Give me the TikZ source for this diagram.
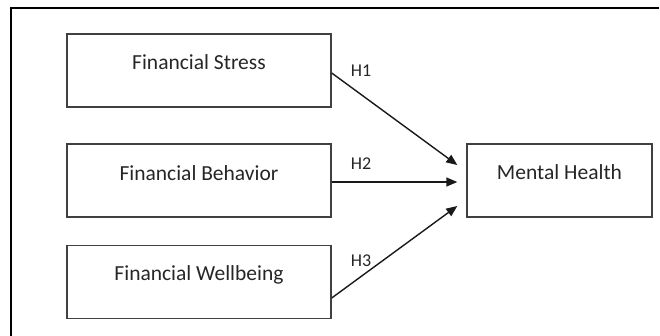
\documentclass[tikz,border=0pt]{standalone}
\usepackage{fontspec}
\setmainfont{Carlito}
\usetikzlibrary{arrows.meta}
\begin{document}
\begin{tikzpicture}[x=1pt,y=-1pt,
  boxnode/.style={draw=black!75,line width=1.4pt,minimum width=264pt,minimum height=73pt,inner sep=0pt},
  mhnode/.style={draw=black!75,line width=1.4pt,minimum width=185pt,minimum height=73pt,inner sep=0pt},
  txt/.style={font=\fontsize{21.5}{24}\selectfont,text=black!85,inner sep=0pt},
  hlab/.style={font=\fontsize{18}{20}\selectfont,text=black!85,inner sep=0pt},
  arr/.style={line width=1.4pt,black!90,-{Triangle[length=11pt,width=9pt]}}]
\useasboundingbox (0,0) rectangle (660,335);
% outer frame (top and left edges)
\draw[line width=1.5pt,black] (11,336) -- (11,8) -- (659,8);
% boxes
\node[boxnode] (fs) at (199,70.5) {};
\node[boxnode] (fb) at (199,180.5) {};
\node[boxnode] (fw) at (199,282) {};
\node[mhnode] (mh) at (559.5,180.5) {};
% texts
\node[txt] (tfs) at ([yshift=8pt]fs.center) {Financial Stress};
\node[txt] (tfb) at ([yshift=7.5pt]fb.center) {Financial Behavior};
\node[txt] (tfw) at ([yshift=7pt]fw.center) {Financial Wellbeing};
\node[txt] (tmh) at ([yshift=8.5pt]mh.center) {Mental Health};
% arrow endpoints
\coordinate (e1) at ([xshift=-9pt,yshift=15.5pt]mh.west);
\coordinate (e2) at ([xshift=-9pt,yshift=-1.5pt]mh.west);
\coordinate (e3) at ([xshift=-9pt,yshift=-25.5pt]mh.west);
\draw[arr] ([yshift=-2.5pt]fs.east) -- (e1);
\draw[arr] ([yshift=-1.5pt]fb.east) -- (e2);
\draw[arr] ([yshift=-16pt]fw.east) -- (e3);
% labels
\node[hlab] (h1) at (361,71) {H1};
\node[hlab] (h2) at (361,164) {H2};
\node[hlab] (h3) at (361,261) {H3};
\end{tikzpicture}
\end{document}
